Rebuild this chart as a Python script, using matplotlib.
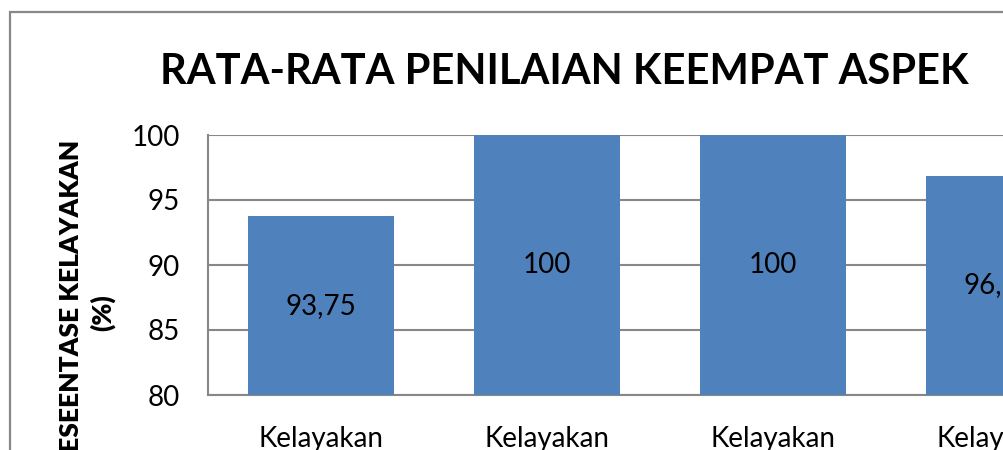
import matplotlib.pyplot as plt
from matplotlib.patches import Rectangle

categories = ["Kelayakan\nIsi", "Kelayakan\nPenyajian", "Kelayakan\nBahasa", "Kelayakan\nKegrafikan"]
values = [93.75, 100, 100, 96.875]
value_labels = ["93,75", "100", "100", "96,88"]
yticks = [80, 85, 90, 95, 100]

plt.rcParams["font.family"] = ["Lato", "DejaVu Sans"]

W, H = 1004, 450
fig = plt.figure(figsize=(W / 100, H / 100), dpi=100)

# outer chart border (extends beyond the visible crop)
fig.patches.append(Rectangle((10 / W, -0.2), 1.2, (H - 12) / H + 0.2,
                             transform=fig.transFigure, fill=False,
                             edgecolor="#888888", linewidth=1.6))

# plot area in pixels: left 208, top 135, bottom 395, width 904
ax = fig.add_axes([208 / W, (H - 395) / H, 904 / W, 260 / H])
x = range(len(categories))
bars = ax.bar(x, values, width=0.646, color="#4F81BD", zorder=3)
ax.set_xlim(-0.5, len(categories) - 0.5)
ax.set_ylim(80, 100)
ax.set_yticks(yticks)
ax.set_xticks(list(x))
ax.set_xticklabels(categories, fontsize=20, va="top")
ax.tick_params(axis="both", length=0, labelsize=20)
ax.tick_params(axis="y", pad=20)
ax.tick_params(axis="x", pad=22)
ax.grid(axis="y", color="#878787", linewidth=1.5, zorder=0)
for s in ["top", "right"]:
    ax.spines[s].set_visible(False)
for s in ["left", "bottom"]:
    ax.spines[s].set_color("#878787")
    ax.spines[s].set_linewidth(1.5)

for b, v, lab in zip(bars, values, value_labels):
    ax.text(b.get_x() + b.get_width() / 2, (80 + v) / 2, lab,
            ha="center", va="center", fontsize=20, color="black", zorder=4)

fig.text(564 / W, 1 - 72 / H, "RATA-RATA PENILAIAN KEEMPAT ASPEK",
         ha="center", va="center", fontsize=30, fontweight="bold")

fig.text(87 / W, 1 - 313 / H, "PRESEENTASE KELAYAKAN\n(%)",
         rotation=90, ha="center", va="center", multialignment="center",
         fontsize=19, fontweight="heavy", linespacing=1.35)

fig.savefig("out.png", dpi=100)
